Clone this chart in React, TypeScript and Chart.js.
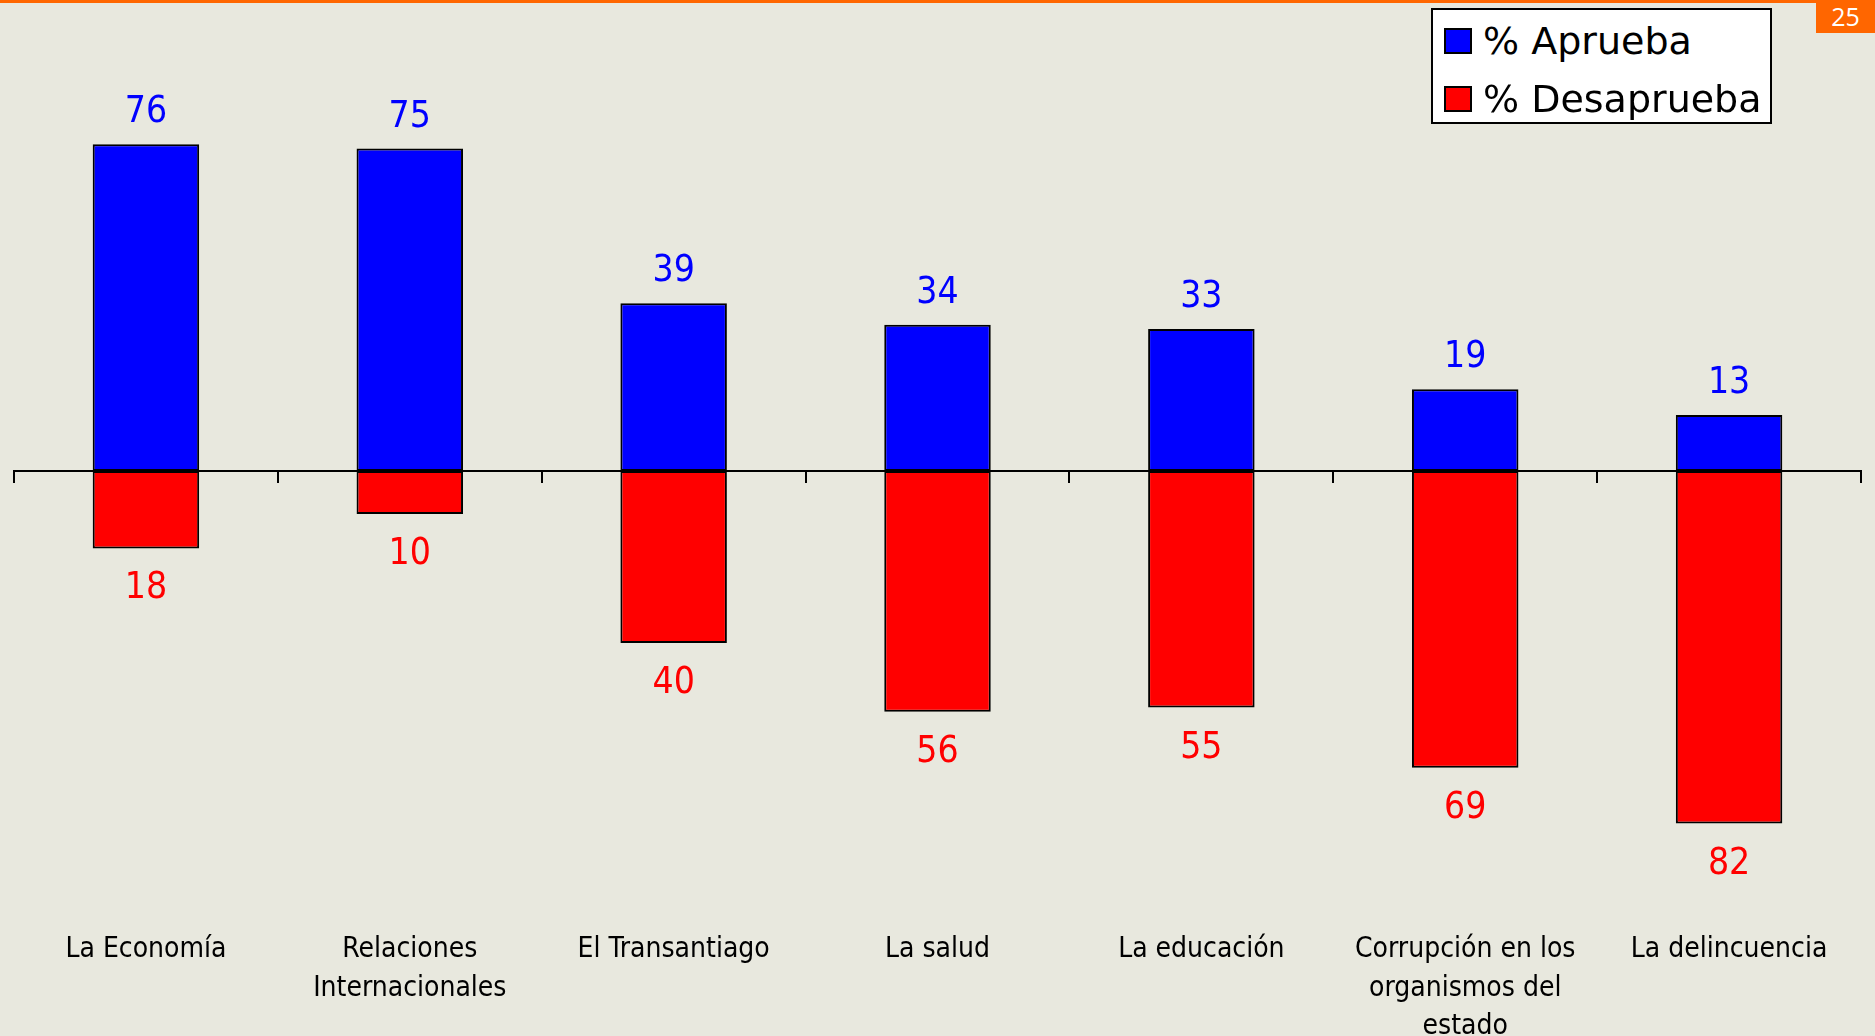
import React, { useEffect, useRef } from "react";
import { Chart, registerables } from "chart.js";

Chart.register(...registerables);

// ---------- data ----------
const categories: (string | string[])[] = [
  "La Economía",
  ["Relaciones", "Internacionales"],
  "El Transantiago",
  "La salud",
  "La educación",
  ["Corrupción en los", "organismos del", "estado"],
  "La delincuencia",
];
const apruebaValues = [76, 75, 39, 34, 33, 19, 13];
const desapruebaValues = [18, 10, 40, 56, 55, 69, 82];
const seriesNames = ["% Aprueba", "% Desaprueba"];
const seriesColors = ["#0000FF", "#FF0000"];
const yMin = -105;
const yMax = 100;
const pageNumber = "25";

// ---------- styles ----------
const BG = "#E8E8DE";
const ORANGE = "#FF6600";
const LABEL_FONT = "'DejaVu Sans Condensed', 'DejaVu Sans', sans-serif";
const VALUE_FONT = "'DejaVu Sans Condensed', 'DejaVu Sans', sans-serif";
const LEGEND_FONT = "'DejaVu Sans', sans-serif";

const valueLabelPlugin = {
  id: "valueLabels",
  afterDatasetsDraw(chart: any) {
    const ctx = chart.ctx;
    chart.data.datasets.forEach((ds: any, di: number) => {
      const meta = chart.getDatasetMeta(di);
      meta.data.forEach((el: any, i: number) => {
        const v = ds.data[i] as number;
        ctx.save();
        ctx.font = `37px ${VALUE_FONT}`;
        ctx.fillStyle = seriesColors[di];
        ctx.textAlign = "center";
        ctx.textBaseline = "alphabetic";
        const y = v >= 0 ? el.y - 22 : el.y + 50;
        ctx.fillText(String(Math.abs(v)), el.x, y);
        ctx.restore();
      });
    });
  },
};

export default function App() {
  const canvasRef = useRef<HTMLCanvasElement | null>(null);

  useEffect(() => {
    if (!canvasRef.current) return;
    const chart = new Chart(canvasRef.current, {
      type: "bar",
      data: {
        labels: categories as any,
        datasets: [
          {
            label: seriesNames[0],
            data: apruebaValues,
            backgroundColor: seriesColors[0],
            borderColor: "#000000",
            borderWidth: 2,
            borderSkipped: false,
            barPercentage: 0.4036,
            categoryPercentage: 1,
            xAxisID: "x",
            yAxisID: "y",
          },
          {
            label: seriesNames[1],
            data: desapruebaValues.map((v) => -v),
            backgroundColor: seriesColors[1],
            borderColor: "#000000",
            borderWidth: 2,
            borderSkipped: false,
            barPercentage: 0.4036,
            categoryPercentage: 1,
            xAxisID: "x",
            yAxisID: "y",
          },
        ],
      },
      options: {
        responsive: false,
        animation: false,
        devicePixelRatio: 1,
        layout: { padding: { left: 14, right: 14, top: 41, bottom: 0 } },
        plugins: {
          legend: { display: false },
          tooltip: { enabled: false },
          title: { display: false },
        },
        scales: {
          x: {
            type: "category",
            stacked: true,
            position: { y: 0 } as any,
            offset: true,
            grid: {
              display: true,
              offset: true,
              drawOnChartArea: false,
              drawTicks: true,
              tickLength: 11,
              color: "#000000",
              lineWidth: 2,
            },
            border: { display: true, color: "#000000", width: 2 },
            ticks: { display: false },
            afterFit: (s: any) => {
              s.height = 0;
            },
          },
          x2: {
            type: "category",
            position: "bottom",
            offset: true,
            grid: { display: false, drawTicks: false },
            border: { display: false },
            ticks: {
              color: "#000000",
              font: { family: LABEL_FONT, size: 28, lineHeight: 1.375 },
              padding: 8,
              maxRotation: 0,
              minRotation: 0,
              autoSkip: false,
            },
            afterFit: (s: any) => {
              s.height = 113.5;
            },
          },
          y: {
            display: false,
            stacked: true,
            min: yMin,
            max: yMax,
          },
        } as any,
      },
      plugins: [valueLabelPlugin],
    });
    return () => chart.destroy();
  }, []);

  return (
    <div
      style={{
        position: "absolute",
        left: 0,
        top: 0,
        width: 1875,
        height: 1036,
        overflow: "hidden",
        background: BG,
      }}
    >
      <canvas
        ref={canvasRef}
        width={1875}
        height={1036}
        style={{ position: "absolute", left: 0, top: 0, width: 1875, height: 1036, display: "block" }}
      />
      <div style={{ position: "absolute", left: 0, top: 0, width: 1875, height: 3, background: ORANGE }} />
      <div
        style={{
          position: "absolute",
          left: 1816,
          top: 0,
          width: 59,
          height: 33,
          background: ORANGE,
          color: "#FFFFFF",
          fontFamily: "'Open Sans', sans-serif",
          fontSize: 25,
          lineHeight: "33px",
          textAlign: "center",
        }}
      >
        {pageNumber}
      </div>
      <div
        style={{
          position: "absolute",
          left: 1431,
          top: 8,
          width: 341,
          height: 116,
          boxSizing: "border-box",
          border: "2px solid #000000",
          background: "#FFFFFF",
        }}
      >
        {seriesNames.map((name, i) => (
          <div
            key={name}
            style={{
              position: "absolute",
              left: 0,
              top: 2 + i * 58,
              height: 58,
              width: 337,
            }}
          >
            <div
              style={{
                position: "absolute",
                left: 11,
                top: 16,
                width: 28,
                height: 26,
                boxSizing: "border-box",
                border: "2px solid #000000",
                background: seriesColors[i],
              }}
            />
            <span
              style={{
                position: "absolute",
                left: 50,
                top: 0,
                height: 58,
                lineHeight: "58px",
                fontFamily: LEGEND_FONT,
                fontSize: 38,
                color: "#000000",
                whiteSpace: "nowrap",
              }}
            >
              {name}
            </span>
          </div>
        ))}
      </div>
    </div>
  );
}
